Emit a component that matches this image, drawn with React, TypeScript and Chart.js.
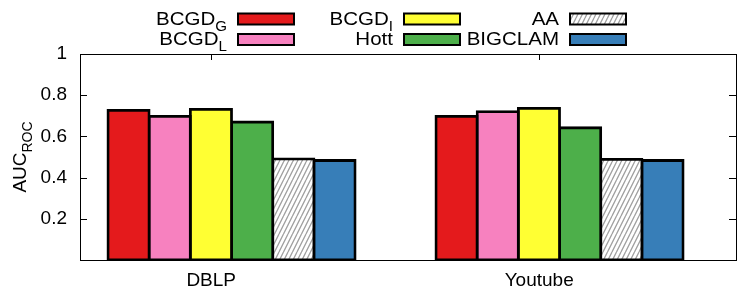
import { useEffect, useRef } from 'react';
import { Chart, registerables } from 'chart.js';

Chart.register(...registerables);

// ---- data ----
const categories = ['DBLP', 'Youtube'];
const seriesMain = ['BCGD', 'BCGD', 'BCGD', 'Hott', 'AA', 'BIGCLAM'];
const seriesSub = ['G', 'L', 'I', '', '', ''];
const bcgdG = [0.726, 0.697];
const bcgdL = [0.697, 0.72];
const bcgdI = [0.731, 0.736];
const hott = [0.67, 0.642];
const aa = [0.491, 0.488];
const bigclam = [0.483, 0.483];
const yTicks = [0.2, 0.4, 0.6, 0.8, 1];
const yTickLabels = ['0.2', '0.4', '0.6', '0.8', '1'];

const seriesValues = [bcgdG, bcgdL, bcgdI, hott, aa, bigclam];
const colors = ['#e41a1c', '#f781bf', '#ffff33', '#4daf4a', 'HATCH', '#377eb8'];

const FONT = "'Liberation Sans', Arial, Helvetica, sans-serif";
const GROUP_SHIFT = 0.062;

function makeHatch(): CanvasPattern | string {
  const c = document.createElement('canvas');
  c.width = 9;
  c.height = 18;
  const g = c.getContext('2d');
  if (!g) return '#ddd';
  g.fillStyle = '#ffffff';
  g.fillRect(0, 0, 9, 18);
  g.strokeStyle = '#a0a0a0';
  g.lineWidth = 1.3;
  g.beginPath();
  for (const off of [-9, -4.5, 0, 4.5, 9]) {
    g.moveTo(off, 18);
    g.lineTo(off + 9, 0);
  }
  g.stroke();
  const p = g.createPattern(c, 'repeat');
  return p || '#ddd';
}

function drawRich(
  ctx: CanvasRenderingContext2D,
  main: string,
  sub: string,
  xRight: number,
  baseline: number
) {
  ctx.save();
  ctx.font = `19px ${FONT}`;
  const wm = ctx.measureText(main).width * 1.08;
  ctx.font = `14px ${FONT}`;
  const ws = sub ? ctx.measureText(sub).width * 1.08 : 0;
  const x0 = xRight - wm - ws;
  ctx.textAlign = 'left';
  ctx.textBaseline = 'alphabetic';
  ctx.fillStyle = '#000';
  ctx.translate(x0, baseline);
  ctx.scale(1.08, 1);
  ctx.font = `19px ${FONT}`;
  ctx.fillText(main, 0, 0);
  if (sub) {
    ctx.font = `14px ${FONT}`;
    ctx.fillText(sub, wm / 1.08, 6);
  }
  ctx.restore();
}

export default function App() {
  const ref = useRef<HTMLCanvasElement | null>(null);

  useEffect(() => {
    const canvas = ref.current;
    if (!canvas) return;
    const hatch = makeHatch();
    const fills = colors.map((c) => (c === 'HATCH' ? hatch : c));

    const datasets = seriesValues.map((vals, i) => ({
      label: seriesMain[i] + seriesSub[i],
      data: vals.map((v, j) => ({ x: j + GROUP_SHIFT, y: v })),
      backgroundColor: fills[i] as any,
      borderColor: '#000000',
      borderWidth: 2.8,
      borderSkipped: false,
      inflateAmount: 1.4,
      barThickness: 41.2,
    }));

    const framePlugin = {
      id: 'frame',
      beforeDatasetsDraw(chart: any) {
        const ctx: CanvasRenderingContext2D = chart.ctx;
        const { left, right, top, bottom } = chart.chartArea;
        const xs = chart.scales.x;
        const ys = chart.scales.y;
        ctx.save();
        ctx.strokeStyle = '#000';
        ctx.lineWidth = 1;
        ctx.beginPath();
        for (const t of yTicks) {
          const y = Math.round(ys.getPixelForValue(t)) + 0.5;
          ctx.moveTo(left, y);
          ctx.lineTo(left + 7, y);
          ctx.moveTo(right, y);
          ctx.lineTo(right - 7, y);
        }
        categories.forEach((_, i) => {
          const x = Math.round(xs.getPixelForValue(i)) + 0.5;
          ctx.moveTo(x, top);
          ctx.lineTo(x, top + 6);
          ctx.moveTo(x, bottom);
          ctx.lineTo(x, bottom - 6);
        });
        ctx.stroke();
        ctx.strokeRect(Math.round(left) + 0.5, Math.round(top) + 0.5, Math.round(right - left), Math.round(bottom - top));
        ctx.restore();
      },
      afterDraw(chart: any) {
        const ctx: CanvasRenderingContext2D = chart.ctx;
        const { top, bottom } = chart.chartArea;
        ctx.save();
        // legend: 3 columns x 2 rows
        const colX = [238, 404, 570];
        const rowBase = [24.5, 45];
        for (let i = 0; i < seriesMain.length; i++) {
          const col = Math.floor(i / 2);
          const row = i % 2;
          const sx = colX[col];
          const sy = rowBase[row] - 11;
          drawRich(ctx, seriesMain[i], seriesSub[i], sx - 11, rowBase[row]);
          ctx.fillStyle = fills[i] as any;
          ctx.fillRect(sx, sy, 56, 11);
          ctx.strokeStyle = '#000';
          ctx.lineWidth = 2;
          ctx.strokeRect(sx, sy, 56, 11);
        }
        // y axis title AUC_ROC
        ctx.font = `19px ${FONT}`;
        const wm = ctx.measureText('AUC').width;
        ctx.font = `14px ${FONT}`;
        const ws = ctx.measureText('ROC').width;
        const cy = (top + bottom) / 2;
        ctx.translate(26, cy + (wm + ws) / 2);
        ctx.rotate(-Math.PI / 2);
        ctx.fillStyle = '#000';
        ctx.textAlign = 'left';
        ctx.textBaseline = 'alphabetic';
        ctx.font = `19px ${FONT}`;
        ctx.fillText('AUC', 0, 0);
        ctx.font = `14px ${FONT}`;
        ctx.fillText('ROC', wm, 6);
        ctx.restore();
      },
    };

    const chart = new Chart(canvas, {
      type: 'bar',
      data: { datasets: datasets as any },
      options: {
        animation: false,
        responsive: false,
        devicePixelRatio: 1,
        layout: { padding: { top: 54, right: 11, left: 0, bottom: 0 } },
        plugins: { legend: { display: false }, tooltip: { enabled: false } },
        scales: {
          x: {
            type: 'linear',
            offset: false,
            min: -0.4,
            max: 1.6,
            afterBuildTicks: (s: any) => {
              s.ticks = categories.map((_, i) => ({ value: i }));
            },
            afterFit: (s: any) => {
              s.height = 37;
            },
            grid: { display: false, drawTicks: false, offset: false },
            border: { display: false },
            ticks: {
              autoSkip: false,
              maxRotation: 0,
              padding: 9,
              color: '#000',
              font: { family: FONT, size: 19 },
              callback: (v: any) => categories[Math.round(Number(v))] ?? '',
            },
          },
          y: {
            type: 'linear',
            min: 0,
            max: 1,
            afterBuildTicks: (s: any) => {
              s.ticks = yTicks.map((v) => ({ value: v }));
            },
            afterFit: (s: any) => {
              s.width = 80;
            },
            grid: { display: false, drawTicks: false },
            border: { display: false },
            ticks: {
              padding: 13,
              color: '#000',
              font: { family: FONT, size: 19 },
              callback: (v: any) => {
                const idx = yTicks.findIndex((t) => Math.abs(t - Number(v)) < 1e-9);
                return idx >= 0 ? yTickLabels[idx] : '';
              },
            },
          },
        },
      },
      plugins: [framePlugin],
    });

    return () => chart.destroy();
  }, []);

  return (
    <div style={{ position: 'absolute', left: 0, top: 0, width: 747, height: 297, background: '#fff' }}>
      <canvas ref={ref} width={747} height={297} style={{ display: 'block' }} />
    </div>
  );
}
